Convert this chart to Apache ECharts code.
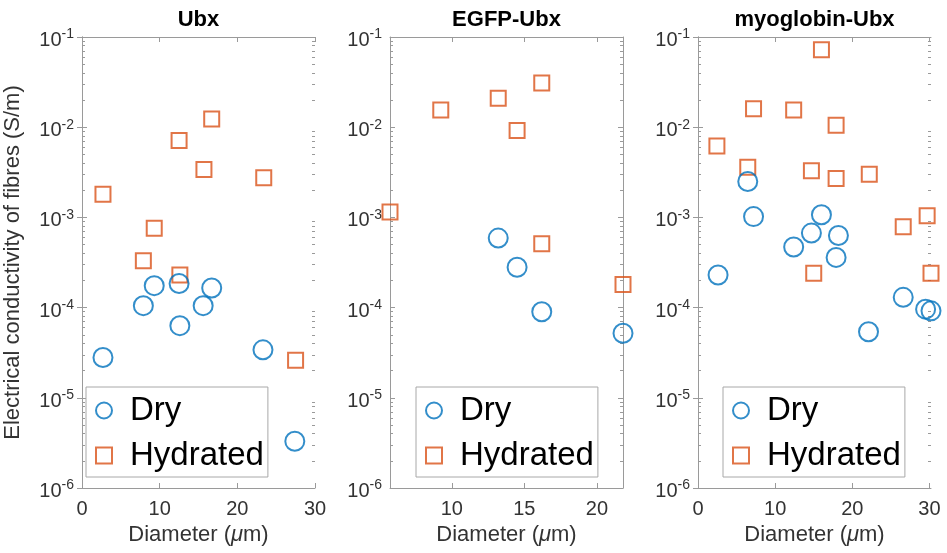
<!DOCTYPE html>
<html><head><meta charset="utf-8">
<script src="https://cdn.jsdelivr.net/npm/echarts@6/dist/echarts.min.js"></script>
<style>html,body{margin:0;padding:0;background:#fff}#c{width:947px;height:553px}</style>
</head><body><div id="c"></div>
<script>
// ---- data ----
const panelTitles = ['Ubx', 'EGFP-Ubx', 'myoglobin-Ubx'];
const seriesNames = ['Dry', 'Hydrated'];

const ubxDryX = [2.7, 7.9, 9.3, 12.5, 12.6, 15.6, 16.7, 23.3, 27.4];
const ubxDryY = [2.8e-5, 1.05e-4, 1.75e-4, 1.85e-4, 6.3e-5, 1.05e-4, 1.65e-4, 3.4e-5, 3.3e-6];
const ubxHydX = [2.7, 7.9, 9.3, 12.6, 12.5, 15.7, 16.7, 23.4, 27.5];
const ubxHydY = [1.8e-3, 3.3e-4, 7.6e-4, 2.3e-4, 7.1e-3, 3.4e-3, 1.23e-2, 2.75e-3, 2.6e-5];

const egfpDryX = [13.2, 14.5, 16.2, 21.8];
const egfpDryY = [5.9e-4, 2.8e-4, 9.0e-5, 5.2e-5];
const egfpHydX = [5.74, 9.24, 13.2, 14.5, 16.2, 16.2, 21.8];
const egfpHydY = [1.15e-3, 1.55e-2, 2.1e-2, 9.2e-3, 3.1e-2, 5.1e-4, 1.8e-4];

const myoDryX = [2.6, 6.45, 7.2, 12.4, 14.7, 16.0, 18.2, 17.9, 22.1, 26.6, 29.5, 30.2];
const myoDryY = [2.3e-4, 2.5e-3, 1.02e-3, 4.7e-4, 6.7e-4, 1.07e-3, 6.3e-4, 3.6e-4, 5.4e-5, 1.3e-4, 9.6e-5, 9.2e-5];
const myoHydX = [2.45, 6.45, 7.2, 12.4, 14.7, 15.0, 16.0, 17.9, 17.9, 22.2, 26.6, 29.7, 30.2];
const myoHydY = [6.2e-3, 3.6e-3, 1.6e-2, 1.55e-2, 3.3e-3, 2.4e-4, 7.2e-2, 1.05e-2, 2.7e-3, 3.0e-3, 7.9e-4, 1.04e-3, 2.4e-4];

const xMins = [0, 5.74, 0];
const xMaxs = [30, 21.8, 30.2];
const xTicks = [[0, 10, 20, 30], [10, 15, 20], [0, 10, 20, 30]];
const yMin = 1e-6, yMax = 1e-1;
const yDecades = [-6, -5, -4, -3, -2, -1];
const minorMultipliers = [2, 3, 4, 5, 6, 7, 8, 9];

const xName = 'Diameter ({i|μ}m)';
const yName = 'Electrical conductivity of fibres (S/m)';

// ---- chart ----
const FONT = "'Liberation Sans', Arial, Helvetica, sans-serif";
const BLUE = '#0072BD', ORANGE = '#D95319';
const AX = '#9a9a9a', TXT = '#333333';

const dry = [[ubxDryX, ubxDryY], [egfpDryX, egfpDryY], [myoDryX, myoDryY]];
const hyd = [[ubxHydX, ubxHydY], [egfpHydX, egfpHydY], [myoHydX, myoHydY]];
const zip = (xs, ys) => xs.map((x, i) => [x, ys[i]]);

const minorLog = [];
yDecades.slice(0, -1).forEach(d => minorMultipliers.forEach(m => minorLog.push(Math.log10(m) + d)));

const gridLefts = [82, 390, 698];
const G = { top: 37, width: 233, height: 451 };

const grid = [], xAxis = [], yAxis = [], series = [], title = [], legend = [];

gridLefts.forEach((gl, i) => {
  grid.push({ left: gl, top: G.top, width: G.width, height: G.height });
  title.push({
    text: panelTitles[i], left: gl + G.width / 2, top: 9, textAlign: 'center', padding: 0,
    textStyle: { fontFamily: FONT, fontSize: 22, fontWeight: 'bold', color: '#000' }
  });
  // bottom x
  xAxis.push({
    type: 'value', gridIndex: i, position: 'bottom', min: xMins[i], max: xMaxs[i],
    axisLine: { show: true, lineStyle: { color: AX, width: 1 } },
    axisTick: { show: true, inside: true, length: 5, customValues: xTicks[i], lineStyle: { color: AX } },
    axisLabel: { show: true, customValues: xTicks[i], margin: 11, fontFamily: FONT, fontSize: 20, color: TXT },
    splitLine: { show: false },
    name: xName, nameLocation: 'middle', nameGap: 36,
    nameTextStyle: { fontFamily: FONT, fontSize: 22, color: TXT, rich: { i: { fontFamily: FONT, fontSize: 22, fontStyle: 'italic', color: TXT } } }
  });
  // top x
  xAxis.push({
    type: 'value', gridIndex: i, position: 'top', min: xMins[i], max: xMaxs[i],
    axisLine: { show: true, lineStyle: { color: AX, width: 1 } },
    axisTick: { show: true, inside: true, length: 5, customValues: xTicks[i], lineStyle: { color: AX } },
    axisLabel: { show: false }, splitLine: { show: false }
  });
  const labelCfg = {
    show: true, margin: 8, padding: [7, 0, 0, 0],
    formatter: v => '{b|10}{e|' + Math.round(Math.log10(v)) + '}',
    rich: {
      b: { fontFamily: FONT, fontSize: 20, lineHeight: 26, color: TXT },
      e: { fontFamily: FONT, fontSize: 14, lineHeight: 10, verticalAlign: 'top', color: TXT }
    }
  };
  // left log y (main)
  yAxis.push({
    type: 'log', logBase: 10, gridIndex: i, position: 'left', min: yMin, max: yMax, splitNumber: 5,
    axisLine: { show: true, lineStyle: { color: AX, width: 1 } },
    axisTick: { show: true, inside: true, length: 5, lineStyle: { color: AX } },
    minorTick: { show: false },
    axisLabel: labelCfg, splitLine: { show: false },
    name: i === 0 ? yName : '', nameLocation: 'middle', nameGap: 58,
    nameTextStyle: { fontFamily: FONT, fontSize: 22, color: TXT }
  });
  // right log y
  yAxis.push({
    type: 'log', logBase: 10, gridIndex: i, position: 'right', min: yMin, max: yMax, splitNumber: 5,
    axisLine: { show: true, lineStyle: { color: AX, width: 1 } },
    axisTick: { show: true, inside: true, length: 5, lineStyle: { color: AX } },
    axisLabel: { show: false }, splitLine: { show: false }
  });
  // minor tick helpers (log10 space)
  ['left', 'right'].forEach(pos => {
    yAxis.push({
      type: 'value', gridIndex: i, position: pos, min: -6, max: -1,
      axisLine: { show: false },
      axisTick: { show: true, inside: true, length: 3, customValues: minorLog, lineStyle: { color: AX } },
      axisLabel: { show: false }, splitLine: { show: false }
    });
  });

  series.push({
    name: seriesNames[0], type: 'scatter', xAxisIndex: 2 * i, yAxisIndex: 4 * i,
    symbol: 'circle', symbolSize: 19, data: zip(dry[i][0], dry[i][1]),
    itemStyle: { color: 'rgba(0,0,0,0)', borderColor: BLUE, borderWidth: 2 },
    emphasis: { disabled: true }, z: 3
  });
  series.push({
    name: seriesNames[1], type: 'scatter', xAxisIndex: 2 * i, yAxisIndex: 4 * i,
    symbol: 'rect', symbolSize: 15, data: zip(hyd[i][0], hyd[i][1]),
    itemStyle: { color: 'rgba(0,0,0,0)', borderColor: ORANGE, borderWidth: 2 },
    emphasis: { disabled: true }, z: 2
  });

  legend.push({
    orient: 'vertical', left: [86, 416, 723][i], top: 387,
    padding: [7, 4, 5, 9], itemGap: 12, itemWidth: 16, itemHeight: 16,
    borderColor: '#a8a8a8', borderWidth: 1, backgroundColor: '#fff', borderRadius: 0,
    selectedMode: false,
    textStyle: { fontFamily: FONT, fontSize: 33, color: '#000', padding: [0, 0, 0, 13] },
    data: [{ name: seriesNames[0], icon: 'circle' }, { name: seriesNames[1], icon: 'rect' }],
    z: 10
  });
});

const chart = echarts.init(document.getElementById('c'), null, { renderer: 'canvas' });
chart.setOption({
  animation: false, backgroundColor: '#fff',
  title, grid, xAxis, yAxis, series, legend
});
</script>
</body></html>
